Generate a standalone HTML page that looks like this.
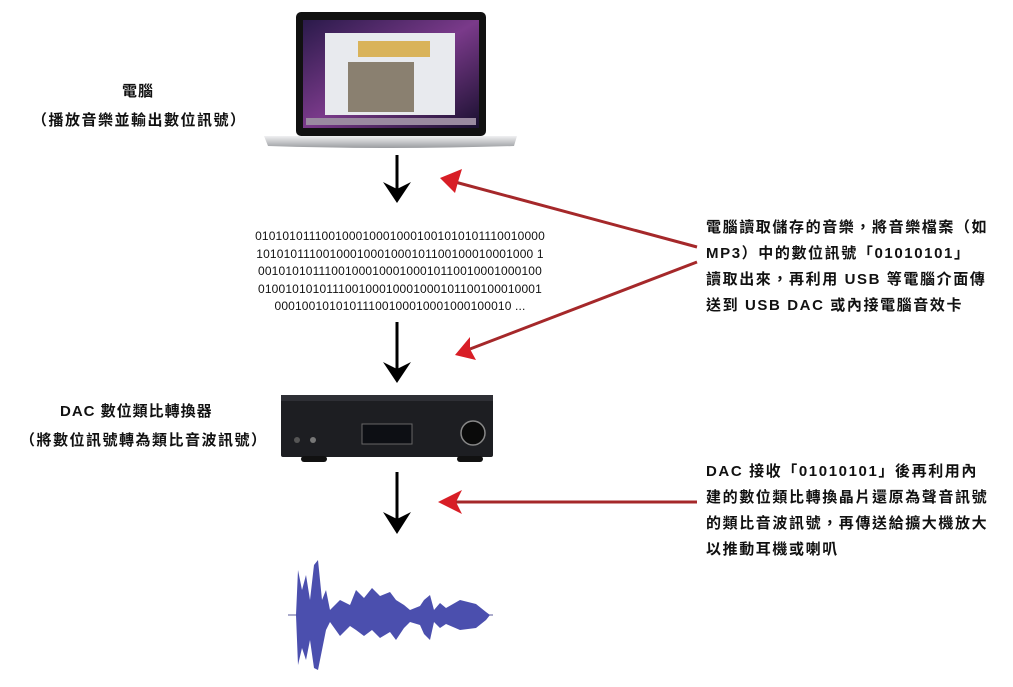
<!DOCTYPE html>
<html><head><meta charset="utf-8"><style>
body{margin:0;width:1013px;height:687px;background:#fff;position:relative;overflow:hidden;font-family:"Liberation Sans","Noto Sans CJK TC",sans-serif}
.t{position:absolute;color:#111;white-space:nowrap}
.r{font-size:15px;font-weight:bold;line-height:26px;left:706px;letter-spacing:1.6px}
.bin{position:absolute;left:240px;width:320px;text-align:center;font-size:12px;line-height:17.5px;top:228px;color:#111;letter-spacing:0.15px}
</style></head><body>
<svg width="1013" height="687" style="position:absolute;left:0;top:0">
<defs>
<linearGradient id="scr" x1="0" y1="0" x2="1" y2="1"><stop offset="0" stop-color="#2a1a4a"/><stop offset=".5" stop-color="#7a3a8a"/><stop offset="1" stop-color="#1a1030"/></linearGradient>
<linearGradient id="base" x1="0" y1="0" x2="0" y2="1"><stop offset="0" stop-color="#f0f0f2"/><stop offset="1" stop-color="#9a9ca0"/></linearGradient>
</defs>
<rect x="296" y="12" width="190" height="124" rx="5" fill="#111"/>
<rect x="303" y="20" width="176" height="108" fill="url(#scr)"/>
<rect x="325" y="33" width="130" height="82" fill="#e8eaee"/>
<rect x="358" y="41" width="72" height="16" fill="#d9b35a"/>
<rect x="348" y="62" width="66" height="50" fill="#8a8070"/>
<rect x="306" y="118" width="170" height="7" fill="#9a8aa0"/>
<path d="M264 136 H517 L514 146 Q390 150 268 146 Z" fill="url(#base)"/>
<rect x="281" y="395" width="212" height="62" rx="2" fill="#1d1e22"/>
<rect x="281" y="395" width="212" height="6" fill="#2e2f35"/>
<rect x="362" y="424" width="50" height="20" fill="#0d0f14" stroke="#666" stroke-width="1"/>
<circle cx="473" cy="433" r="12" fill="#0a0a0a" stroke="#888" stroke-width="1.5"/>
<circle cx="297" cy="440" r="3" fill="#555"/><circle cx="313" cy="440" r="3" fill="#777"/>
<rect x="301" y="456" width="26" height="6" rx="3" fill="#111"/>
<rect x="457" y="456" width="26" height="6" rx="3" fill="#111"/>
<line x1="288" y1="615" x2="493" y2="615" stroke="#5a5a9a" stroke-width="1"/>
<path d="M296 615 L298 570 L302 590 L306 575 L310 600 L314 565 L318 560 L322 600 L326 590 L330 610 L340 600 L350 605 L356 590 L364 598 L372 588 L380 596 L390 592 L396 600 L404 605 L410 610 L420 606 L424 600 L430 595 L434 610 L440 603 L446 608 L460 600 L476 604 L486 612 L490 615 L486 620 L476 628 L460 630 L446 624 L440 628 L434 622 L430 640 L424 634 L420 625 L410 622 L404 628 L396 640 L390 632 L380 638 L372 630 L364 636 L356 630 L350 626 L340 636 L330 622 L326 630 L322 650 L318 670 L314 668 L310 640 L306 660 L302 648 L298 665 Z" fill="#4b4fae"/>
<g stroke="#000" stroke-width="3"><line x1="397" y1="155" x2="397" y2="190"/><line x1="397" y1="322" x2="397" y2="370"/><line x1="397" y1="472" x2="397" y2="520"/></g>
<g fill="#000"><path d="M383 182 L397 203 L411 182 L397 189Z"/><path d="M383 362 L397 383 L411 362 L397 369Z"/><path d="M383 512 L397 534 L411 512 L397 519Z"/></g>
<g stroke="#a5282a" stroke-width="3"><line x1="697" y1="247" x2="455" y2="182"/><line x1="697" y1="262" x2="470" y2="349"/><line x1="697" y1="502" x2="455" y2="502"/></g>
<g fill="#d81e26"><path d="M440 178 L462 169 L458 182 L455 193Z"/><path d="M455 355 L470 337 L470 349 L476 360Z"/><path d="M438 502 L462 490 L456 502 L462 514Z"/></g>
</svg>
<div class="t" style="left:122px;top:80px;font-size:15px;font-weight:bold;letter-spacing:1px">電腦</div>
<div class="t" style="left:32px;top:109px;font-size:15px;font-weight:bold;letter-spacing:1.5px">（播放音樂並輸出數位訊號）</div>
<div class="t" style="left:60px;top:400px;font-size:15px;font-weight:bold;letter-spacing:1px">DAC 數位類比轉換器</div>
<div class="t" style="left:20px;top:429px;font-size:15px;font-weight:bold;letter-spacing:1.5px">（將數位訊號轉為類比音波訊號）</div>
<div class="bin">0101010111001000100010001001010101110010000<br>10101011100100010001000101100100010001000 1<br>001010101110010001000100010110010001000100<br>010010101011100100010001000101100100010001<br>00010010101011100100010001000100010 ...</div>
<div class="t r" style="top:215px">電腦讀取儲存的音樂，將音樂檔案（如<br>MP3）中的數位訊號「01010101」<br>讀取出來，再利用 USB 等電腦介面傳<br>送到 USB DAC 或內接電腦音效卡</div>
<div class="t r" style="top:459px">DAC 接收「01010101」後再利用內<br>建的數位類比轉換晶片還原為聲音訊號<br>的類比音波訊號，再傳送給擴大機放大<br>以推動耳機或喇叭</div>
</body></html>
